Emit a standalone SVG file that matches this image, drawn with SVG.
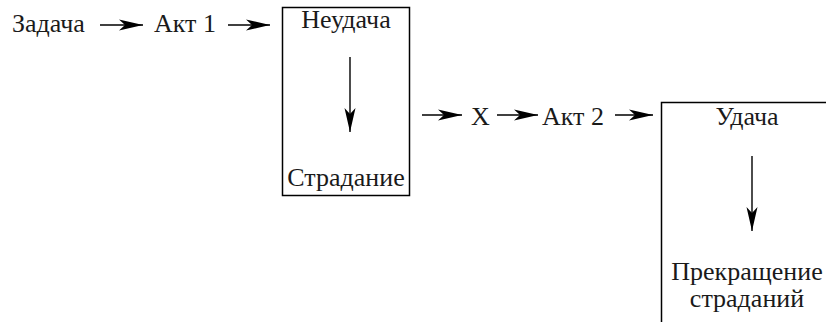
<svg xmlns="http://www.w3.org/2000/svg" width="826" height="322" viewBox="0 0 826 322">
<style>
.ln{stroke:#000;stroke-width:1.4;fill:none}
.box{stroke:#000;stroke-width:1.5;fill:none}
</style>
<defs>
<marker id="ah" markerUnits="userSpaceOnUse" markerWidth="26" markerHeight="12" refX="24" refY="5.5" orient="auto" overflow="visible">
<path d="M0,0 L24,5.5 L0,11 L6,5.5 Z" fill="#000"/>
</marker>
</defs>
<g id="zadacha"><text x="12" y="32" font-family="Liberation Serif" font-size="26" fill="#1a1a1a">Задача</text></g>
<g id="akt1"><text x="154" y="32" font-family="Liberation Serif" font-size="26" fill="#1a1a1a">Акт 1</text></g>
<g id="box1">
<rect class="box" x="282.5" y="7.5" width="127" height="188"/>
<text x="346" y="28" text-anchor="middle" font-family="Liberation Serif" font-size="26" fill="#1a1a1a">Неудача</text>
<text x="346" y="186" text-anchor="middle" font-family="Liberation Serif" font-size="26" fill="#1a1a1a">Страдание</text>
</g>
<g id="x"><text x="471" y="125" font-family="Liberation Serif" font-size="26" fill="#1a1a1a">Х</text></g>
<g id="akt2"><text x="542" y="125" font-family="Liberation Serif" font-size="26" fill="#1a1a1a">Акт 2</text></g>
<g id="box2">
<path class="box" d="M661.5,322 V102.5 H830"/>
<text x="747" y="125" text-anchor="middle" font-family="Liberation Serif" font-size="26" fill="#1a1a1a">Удача</text>
<text x="747" y="280" text-anchor="middle" font-family="Liberation Serif" font-size="26" fill="#1a1a1a">Прекращение</text>
<text x="747" y="307" text-anchor="middle" font-family="Liberation Serif" font-size="26" fill="#1a1a1a">страданий</text>
</g>
<g id="connectors">
<line class="ln" x1="100" y1="25" x2="143" y2="25" marker-end="url(#ah)"/>
<line class="ln" x1="228" y1="25" x2="270" y2="25" marker-end="url(#ah)"/>
<line class="ln" x1="350" y1="57" x2="350" y2="132" marker-end="url(#ah)"/>
<line class="ln" x1="422" y1="115" x2="462" y2="115" marker-end="url(#ah)"/>
<line class="ln" x1="497" y1="115" x2="538" y2="115" marker-end="url(#ah)"/>
<line class="ln" x1="615" y1="115" x2="653" y2="115" marker-end="url(#ah)"/>
<line class="ln" x1="752" y1="156" x2="752" y2="231" marker-end="url(#ah)"/>
</g>
</svg>
